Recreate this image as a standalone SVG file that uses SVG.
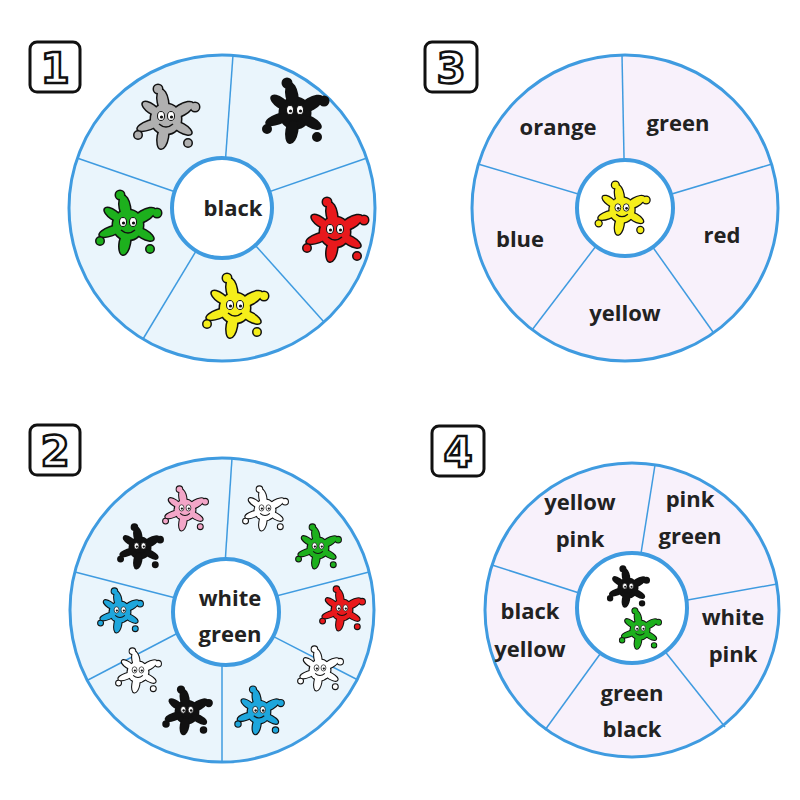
<svg xmlns="http://www.w3.org/2000/svg" xmlns:xlink="http://www.w3.org/1999/xlink" width="800" height="800" viewBox="0 0 800 800">
<style>
.w1{fill:#eaf5fc;stroke:#3f9be0;stroke-width:3}
.w3{fill:#f8f1fb;stroke:#3f9be0;stroke-width:3}
.div{stroke:#3f9be0;stroke-width:1.5}
.hub{fill:#fff;stroke:#3f9be0;stroke-width:4}
.t{font-family:"Open Sans","DejaVu Sans",sans-serif;font-weight:700;font-size:22px;fill:#222;text-anchor:middle}
.box{fill:#fff;stroke:#111;stroke-width:3}
.num{font-family:"DejaVu Sans",sans-serif;font-weight:700;font-size:42px;fill:#fff;stroke:#111;stroke-width:2.5;text-anchor:middle}
</style>
<defs>
<g id="shape">
<circle r="15"/>
<ellipse cx="0" cy="-18" rx="5" ry="12" transform="rotate(-10)"/>
<ellipse cx="0" cy="-18" rx="5" ry="13" transform="rotate(60)"/>
<ellipse cx="0" cy="-18" rx="4" ry="11" transform="rotate(120)"/>
<ellipse cx="0" cy="-18" rx="5" ry="12" transform="rotate(190)"/>
<ellipse cx="0" cy="-18" rx="4" ry="12" transform="rotate(250)"/>
<ellipse cx="0" cy="-18" rx="4" ry="10" transform="rotate(305)"/>
<circle cx="-8" cy="-30" r="4"/>
<circle cx="29" cy="-12" r="4"/>
<circle cx="22" cy="24" r="3.5"/>
<circle cx="-28" cy="16" r="3.5"/>
</g>
<symbol id="splat" viewBox="-36 -36 72 72" overflow="visible">
<use xlink:href="#shape" fill="#111" stroke="#111" stroke-width="3"/>
<use xlink:href="#shape"/>
<ellipse cx="-5" cy="-3" rx="3.5" ry="4.5" fill="#fff" stroke="#111" stroke-width="1"/>
<ellipse cx="5" cy="-3" rx="3.5" ry="4.5" fill="#fff" stroke="#111" stroke-width="1"/>
<circle cx="-4.5" cy="-2" r="1.6" fill="#111"/>
<circle cx="5.5" cy="-2" r="1.6" fill="#111"/>
<path d="M-7 5 Q0 11 7 5" fill="none" stroke="#111" stroke-width="1.5"/>
</symbol>
</defs>
<rect width="800" height="800" fill="#fff"/>

<g id="label1"><rect class="box" x="30" y="42" width="50" height="50" rx="7"/><text class="num" x="55" y="83">1</text></g>
<g id="label3"><rect class="box" x="425" y="42" width="52" height="50" rx="7"/><text class="num" x="451" y="83">3</text></g>
<g id="label2"><rect class="box" x="30" y="425" width="50" height="50" rx="7"/><text class="num" x="55" y="466">2</text></g>
<g id="label4"><rect class="box" x="432" y="426" width="52" height="50" rx="7"/><text class="num" x="458" y="467">4</text></g>

<g id="wheel1">
<circle class="w1" cx="222" cy="208" r="153"/>
<line class="div" x1="222" y1="208" x2="233" y2="55"/>
<line class="div" x1="222" y1="208" x2="367" y2="158"/>
<line class="div" x1="222" y1="208" x2="77" y2="158"/>
<line class="div" x1="222" y1="208" x2="143" y2="339"/>
<line class="div" x1="222" y1="208" x2="324" y2="322"/>
<circle class="hub" cx="222" cy="208" r="50"/>
<text class="t" x="233" y="216">black</text>
<use xlink:href="#splat" x="130" y="83" width="72" height="72" fill="#b0b0b0"/>
<use xlink:href="#splat" x="259" y="77" width="72" height="72" fill="#111"/>
<use xlink:href="#splat" x="92" y="189" width="72" height="72" fill="#1db01d"/>
<use xlink:href="#splat" x="299" y="196" width="72" height="72" fill="#e8191c"/>
<use xlink:href="#splat" x="199" y="272" width="72" height="72" fill="#f5ee1a"/>
</g>

<g id="wheel3">
<circle class="w3" cx="625" cy="208" r="153"/>
<line class="div" x1="625" y1="208" x2="622" y2="55"/>
<line class="div" x1="625" y1="208" x2="478" y2="164"/>
<line class="div" x1="625" y1="208" x2="772" y2="164"/>
<line class="div" x1="625" y1="208" x2="532" y2="330"/>
<line class="div" x1="625" y1="208" x2="713" y2="332"/>
<circle class="hub" cx="625" cy="208" r="48"/>
<use xlink:href="#splat" x="592" y="180" width="60" height="60" fill="#f5ee1a"/>
<text class="t" x="558" y="135">orange</text>
<text class="t" x="678" y="131">green</text>
<text class="t" x="520" y="247">blue</text>
<text class="t" x="722" y="243">red</text>
<text class="t" x="625" y="321">yellow</text>
</g>

<g id="wheel2">
<circle class="w1" cx="222" cy="610" r="152"/>
<line class="div" x1="222" y1="610" x2="232" y2="458"/>
<line class="div" x1="222" y1="610" x2="222" y2="762"/>
<line class="div" x1="222" y1="610" x2="75" y2="572"/>
<line class="div" x1="222" y1="610" x2="369" y2="572"/>
<line class="div" x1="222" y1="610" x2="88" y2="680"/>
<line class="div" x1="222" y1="610" x2="358" y2="680"/>
<circle class="hub" cx="226" cy="612" r="53"/>
<text class="t" x="230" y="606">white</text>
<text class="t" x="230" y="642">green</text>
<use xlink:href="#splat" x="160" y="485" width="50" height="50" fill="#f3a6c8"/>
<use xlink:href="#splat" x="115" y="523" width="50" height="50" fill="#111"/>
<use xlink:href="#splat" x="240" y="485" width="50" height="50" fill="#fff"/>
<use xlink:href="#splat" x="293" y="523" width="50" height="50" fill="#1db01d"/>
<use xlink:href="#splat" x="95" y="587" width="50" height="50" fill="#1ea6dc"/>
<use xlink:href="#splat" x="113" y="647" width="50" height="50" fill="#fff"/>
<use xlink:href="#splat" x="317" y="585" width="50" height="50" fill="#e8191c"/>
<use xlink:href="#splat" x="295" y="645" width="50" height="50" fill="#fff"/>
<use xlink:href="#splat" x="160" y="685" width="54" height="54" fill="#111"/>
<use xlink:href="#splat" x="232" y="685" width="54" height="54" fill="#1ea6dc"/>
</g>

<g id="wheel4">
<circle class="w3" cx="632" cy="610" r="147"/>
<line class="div" x1="632" y1="610" x2="655" y2="465"/>
<line class="div" x1="632" y1="610" x2="492" y2="565"/>
<line class="div" x1="632" y1="610" x2="777" y2="584"/>
<line class="div" x1="632" y1="610" x2="545" y2="730"/>
<line class="div" x1="632" y1="610" x2="725" y2="727"/>
<circle class="hub" cx="632" cy="608" r="55"/>
<use xlink:href="#splat" x="605" y="565" width="46" height="46" fill="#111"/>
<use xlink:href="#splat" x="617" y="607" width="46" height="46" fill="#1db01d"/>
<text class="t" x="580" y="510">yellow</text>
<text class="t" x="580" y="547">pink</text>
<text class="t" x="690" y="507">pink</text>
<text class="t" x="690" y="544">green</text>
<text class="t" x="530" y="619">black</text>
<text class="t" x="530" y="657">yellow</text>
<text class="t" x="733" y="625">white</text>
<text class="t" x="733" y="662">pink</text>
<text class="t" x="632" y="701">green</text>
<text class="t" x="632" y="737">black</text>
</g>
</svg>
